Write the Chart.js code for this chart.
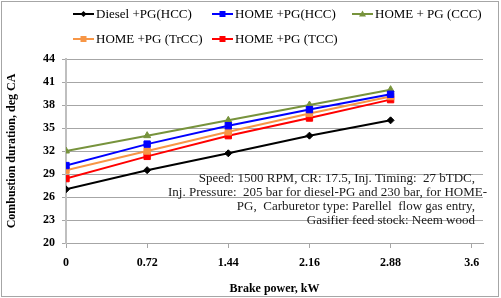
<!DOCTYPE html>
<html>
<head>
<meta charset="utf-8">
<script src="https://cdn.jsdelivr.net/npm/chart.js@4"></script>
<style>
  html, body { margin: 0; padding: 0; background: #fff; }
  #wrap { width: 501px; height: 298px; }
</style>
</head>
<body>
<div id="wrap"><canvas id="chart" width="501" height="298"></canvas></div>
<script>
// brake power (kW)
const brakePower = [0, 0.72, 1.44, 2.16, 2.88];
const xTickLabels = [0, 0.72, 1.44, 2.16, 2.88, 3.6];

// combustion duration (deg CA)
const dieselHCC = [27.0, 29.5, 31.7, 34.0, 36.0];
const homeHCC = [30.1, 32.9, 35.3, 37.4, 39.4];
const homeCCC = [32.0, 34.0, 36.0, 38.0, 40.0];
const homeTrCC = [29.5, 32.0, 34.5, 36.9, 39.1];
const homeTCC = [28.4, 31.3, 34.0, 36.3, 38.7];

const seriesNames = ["Diesel +PG(HCC)", "HOME +PG(HCC)", "HOME + PG (CCC)", "HOME +PG (TrCC)", "HOME +PG (TCC)"];

const noteLines = [
  "Speed: 1500 RPM, CR: 17.5, Inj. Timing:  27 bTDC,",
  "Inj. Pressure:  205 bar for diesel-PG and 230 bar, for HOME-",
  "PG,  Carburetor type: Parellel  flow gas entry,",
  "Gasifier feed stock: Neem wood",
];

const serif = "'Liberation Serif', 'Times New Roman', serif";

const toPoints = (ys) => ys.map((y, i) => ({ x: brakePower[i], y: y }));

const styles = [
  { color: "#000000", point: "rectRot", radius: 3.5 },
  { color: "#0000ff", point: "rect", radius: 4.5 },
  { color: "#77933c", point: "triangle", radius: 4 },
  { color: "#f79646", point: "rect", radius: 4.5 },
  { color: "#ff0000", point: "rect", radius: 4.5 },
];
const allData = [dieselHCC, homeHCC, homeCCC, homeTrCC, homeTCC];

const datasets = allData.map((d, i) => ({
  label: seriesNames[i],
  data: toPoints(d),
  borderColor: styles[i].color,
  backgroundColor: styles[i].color,
  borderWidth: 2,
  pointStyle: styles[i].point,
  pointRadius: styles[i].radius,
  pointBorderWidth: 1,
  tension: 0,
}));

// legend drawn by hand: line with marker, two rows
const legendPlugin = {
  id: "legendRows",
  afterDraw(chart) {
    const ctx = chart.ctx;
    const slots = [[73, 14], [212, 14], [352, 14], [73, 39], [212, 39]];
    ctx.save();
    ctx.font = "13px " + serif;
    ctx.textBaseline = "middle";
    chart.data.datasets.forEach((ds, i) => {
      const [x, y] = slots[i];
      ctx.strokeStyle = ds.borderColor;
      ctx.lineWidth = 2;
      ctx.beginPath();
      ctx.moveTo(x, y);
      ctx.lineTo(x + 21, y);
      ctx.stroke();
      ctx.fillStyle = ds.borderColor;
      const cx = x + 10.5;
      const s = ds.pointStyle;
      ctx.beginPath();
      if (s === "rect") {
        ctx.rect(cx - 3, y - 3, 6, 6);
      } else if (s === "rectRot") {
        ctx.moveTo(cx, y - 3); ctx.lineTo(cx + 3, y); ctx.lineTo(cx, y + 3); ctx.lineTo(cx - 3, y);
      } else {
        ctx.moveTo(cx, y - 3.5); ctx.lineTo(cx + 3.5, y + 2.5); ctx.lineTo(cx - 3.5, y + 2.5);
      }
      ctx.closePath();
      ctx.fill();
      ctx.fillStyle = "#000";
      ctx.fillText(ds.label, x + 23, y + 1);
    });
    ctx.restore();
  },
};

// note text and outer frame
const notePlugin = {
  id: "note",
  beforeDraw(chart) {
    const ctx = chart.ctx;
    ctx.save();
    ctx.fillStyle = "#fff";
    ctx.fillRect(0, 0, chart.width, chart.height);
    ctx.strokeStyle = "#a6a6a6";
    ctx.lineWidth = 1;
    ctx.strokeRect(1.5, 1.5, 497, 295);
    ctx.restore();
  },
  afterDatasetsDraw(chart) {
    const ctx = chart.ctx;
    const rightEdges = [475, 487, 475, 475];
    ctx.save();
    ctx.font = "13px " + serif;
    ctx.fillStyle = "#1a1a1a";
    ctx.textAlign = "right";
    ctx.textBaseline = "middle";
    noteLines.forEach((t, i) => {
      ctx.fillText(t, rightEdges[i], 179 + i * 13.8);
    });
    ctx.restore();
  },
};

new Chart(document.getElementById("chart"), {
  type: "line",
  data: { datasets: datasets },
  plugins: [notePlugin, legendPlugin],
  options: {
    responsive: false,
    animation: false,
    layout: { padding: { top: 59, right: 18, left: 0, bottom: 0 } },
    plugins: {
      legend: { display: false },
      tooltip: { enabled: false },
    },
    scales: {
      x: {
        type: "linear",
        min: 0,
        max: 3.7,
        afterBuildTicks: (scale) => {
          scale.ticks = xTickLabels.map((v) => ({ value: v }));
        },
        afterFit: (scale) => { scale.height = 55; },
        border: { color: "#a6a6a6", width: 1 },
        grid: { drawOnChartArea: false, drawTicks: true, tickLength: 5, color: "#a6a6a6" },
        ticks: {
          padding: 8,
          color: "#000",
          font: { family: serif, size: 12, weight: "bold" },
          callback: (v) => String(Number(v.toFixed(2))),
          maxRotation: 0,
        },
        title: {
          display: true,
          text: "Brake power, kW",
          color: "#000",
          font: { family: serif, size: 12, weight: "bold" },
          padding: { top: 0, bottom: 2 },
        },
      },
      y: {
        min: 20,
        max: 44,
        afterFit: (scale) => { scale.width = 66; },
        border: { color: "#bfbfbf", width: 2 },
        grid: { color: "#a6a6a6", lineWidth: 1, drawTicks: true, tickLength: 4 },
        ticks: {
          stepSize: 3,
          padding: 7,
          color: "#000",
          font: { family: serif, size: 12, weight: "bold" },
        },
        title: {
          display: true,
          text: "Combustion duration, deg CA",
          color: "#000",
          font: { family: serif, size: 12, weight: "bold" },
          padding: { top: 5, bottom: 0 },
        },
      },
    },
  },
});
</script>
</body>
</html>
